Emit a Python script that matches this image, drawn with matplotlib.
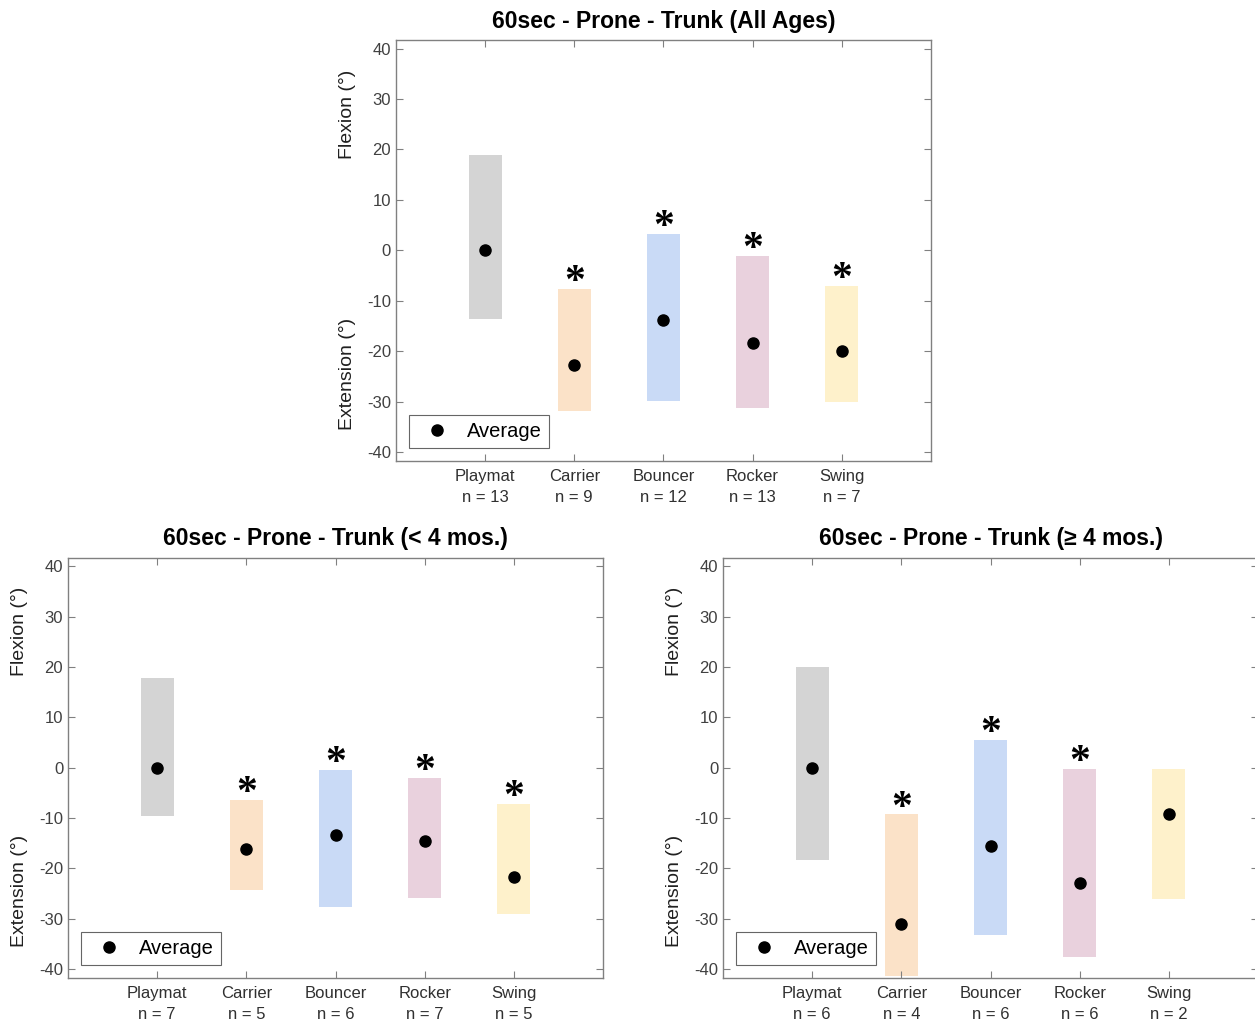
import numpy as np
import matplotlib.pyplot as plt
from matplotlib.transforms import blended_transform_factory

plt.rcParams['font.family'] = ['Liberation Sans', 'DejaVu Sans']
plt.rcParams['axes.unicode_minus'] = False

# Dati
categorie = ['Playmat', 'Carrier', 'Bouncer', 'Rocker', 'Swing']
colori = ['#d4d4d4', '#fbe2c8', '#c9daf6', '#e9d1dd', '#fef1cb']

titoli = ['60sec - Prone - Trunk (All Ages)',
          '60sec - Prone - Trunk (< 4 mos.)',
          '60sec - Prone - Trunk (\u2265 4 mos.)']

n_all = [13, 9, 12, 13, 7]
top_all = [19.0, -7.7, 3.2, -1.2, -7.1]
bot_all = [-13.7, -31.9, -29.9, -31.3, -30.1]
media_all = [0.0, -22.8, -13.9, -18.4, -20.0]
sig_all = [False, True, True, True, True]

n_lt4 = [7, 5, 6, 7, 5]
top_lt4 = [17.9, -6.4, -0.4, -2.0, -7.2]
bot_lt4 = [-9.7, -24.3, -27.6, -26.0, -29.0]
media_lt4 = [0.0, -16.1, -13.3, -14.5, -21.7]
sig_lt4 = [False, True, True, True, True]

n_ge4 = [6, 4, 6, 6, 2]
top_ge4 = [20.1, -9.3, 5.6, -0.2, -0.2]
bot_ge4 = [-18.3, -41.5, -33.2, -37.6, -26.2]
media_ge4 = [0.0, -31.0, -15.5, -22.9, -9.3]
sig_ge4 = [False, True, True, True, False]

pannelli = [
    (titoli[0], n_all, top_all, bot_all, media_all, sig_all),
    (titoli[1], n_lt4, top_lt4, bot_lt4, media_lt4, sig_lt4),
    (titoli[2], n_ge4, top_ge4, bot_ge4, media_ge4, sig_ge4),
]

posizioni = [[0.3155, 0.5489, 0.4263, 0.4119],
             [0.0542, 0.0431, 0.4263, 0.4110],
             [0.5761, 0.0431, 0.4263, 0.4110]]

fig = plt.figure(figsize=(12.55, 10.22), dpi=100)

for pos, (tit, n, top, bot, media, sig) in zip(posizioni, pannelli):
    ax = fig.add_axes(pos)
    x = np.arange(1, 6)
    ax.bar(x, np.array(top) - np.array(bot), bottom=bot, width=0.37,
           color=colori, edgecolor='none', zorder=1)
    ax.plot(x, media, 'o', color='black', markersize=8, label='Average', zorder=3)
    for xi, t, s in zip(x, top, sig):
        if s:
            ax.text(xi, t - 2.6, '*', ha='center', va='bottom', fontsize=30,
                    family='Liberation Serif', fontweight='bold', color='black')
    ax.set_xlim(0, 6)
    ax.set_ylim(-41.8, 41.7)
    ax.set_yticks(np.arange(-40, 41, 10))
    ax.set_xticks(x)
    ax.set_xticklabels([f'{c}\nn = {k}' for c, k in zip(categorie, n)],
                       fontsize=12, color='#303030', linespacing=1.45)
    ax.tick_params(axis='y', labelsize=12, labelcolor='#404040')
    ax.tick_params(direction='in', top=True, right=True, length=5,
                   color='#808080', width=0.8)
    ax.tick_params(axis='x', pad=6)
    for sp in ax.spines.values():
        sp.set_color('#808080')
        sp.set_linewidth(1.0)
    ax.set_title(tit, fontsize=16.5, fontweight='bold', pad=9)
    tr = blended_transform_factory(ax.transAxes, ax.transData)
    ax.text(-0.09, 27, 'Flexion (\u00b0)', rotation=90, ha='center', va='center',
            fontsize=14, transform=tr, color='#202020')
    ax.text(-0.09, -24.5, 'Extension (\u00b0)', rotation=90, ha='center', va='center',
            fontsize=14, transform=tr, color='#202020')
    leg = ax.legend(loc='lower left', fontsize=14.5, frameon=True, fancybox=False,
                    edgecolor='#404040', handletextpad=0.5, borderpad=0.35,
                    borderaxespad=0, bbox_to_anchor=(0.025, 0.03))
    leg.get_frame().set_linewidth(0.8)

fig.savefig('out.png', dpi=100)
